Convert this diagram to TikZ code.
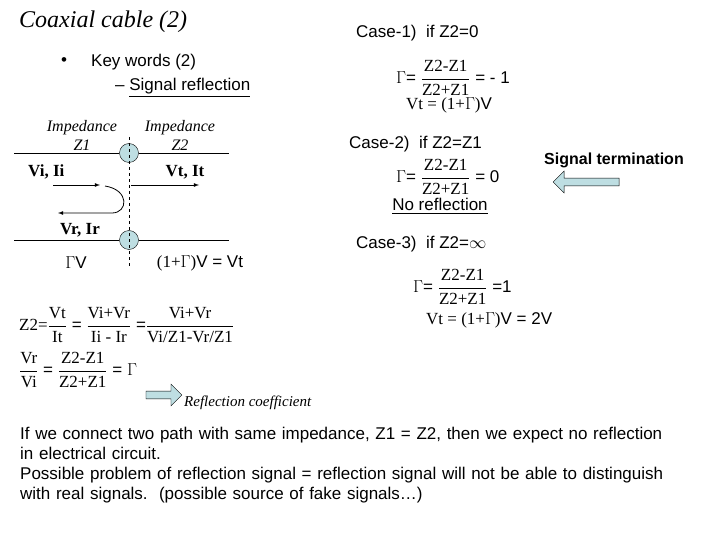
\documentclass[tikz,border=0pt]{standalone}
\usepackage{amsmath}
\usepackage{fontspec}
\setmainfont{Liberation Serif}
\setsansfont{Liberation Sans}
\usepackage{tikz}
\usetikzlibrary{shapes, arrows, positioning, calc}
\definecolor{pale}{RGB}{190,222,226}
\newcommand{\fr}[2]{$\dfrac{\text{\rmfamily #1}}{\text{\rmfamily #2}}$}

\begin{document}
\begin{tikzpicture}[x=1pt, y=-1pt,
        every node/.style={inner sep=1pt, font=\sffamily\fontsize{17}{20}\selectfont},
        ital/.style={font=\rmfamily\itshape\fontsize{16}{19}\selectfont, align=center},
        bold/.style={font=\rmfamily\bfseries\fontsize{17}{20}\selectfont},
        joint/.style={circle, draw, fill=pale, minimum size=19pt, inner sep=0pt},
        fat/.style={single arrow, draw, fill=pale, minimum height=36pt, minimum width=22pt, single arrow head extend=4pt, inner sep=2pt}
    ]
        \useasboundingbox (0,0) rectangle (720,540);

        % Title and key words
        \node[anchor=west, font=\rmfamily\itshape\fontsize{24}{28}\selectfont] (title) at (18,22) {Coaxial cable (2)};
        \node[anchor=west] (bullet) at (60,62) {•};
        \node[anchor=west] (keys) at (90,62) {Key words (2)};
        \node[anchor=west] (refl) at (114,88) {– \underline{Signal reflection}};

        % Cable
        \node[ital] (imp1) at (82,135) {Impedance\\Z1};
        \node[ital] (imp2) at (180,135) {Impedance\\Z2};
        \node[joint] (jtop) at (129,153) {};
        \node[joint] (jbot) at (129,240) {};
        \coordinate (tl) at (14,153); \coordinate (tr) at (229,153);
        \coordinate (bl) at (14,240); \coordinate (br) at (229,240);
        \draw (tl) -- (jtop) -- (tr);
        \draw (bl) -- (jbot) -- (br);
        \coordinate (dtop) at (129,137); \coordinate (dbot) at (129,266);
        \draw[dashed] (dtop) -- (dbot);

        \node[bold, anchor=west] (vi) at (27,172) {Vi, Ii};
        \node[bold] (vt) at (185,172) {Vt, It};
        \node[bold] (vr) at (80,230) {Vr, Ir};
        \coordinate (a1) at (53,185); \coordinate (a2) at (100,185);
        \coordinate (b1) at (131,185); \coordinate (b2) at (199,185);
        \coordinate (c1) at (105,186); \coordinate (c2) at (58,213);
        \draw[-latex, thick] (a1) -- (a2);
        \draw[-latex, thick] (b1) -- (b2);
        \draw[-latex, thick] (c1) .. controls (130,190) and (128,213) .. (112,213) -- (c2);

        \node (gv) at (76,263) {{\rmfamily$\Gamma$}V};
        \node (tv) at (200,263) {{\rmfamily(1+$\Gamma$)}V = Vt};

        % Formulas
        \node[anchor=west] (zeq) at (18,325) {{\rmfamily Z2=}\fr{Vt}{It} = \fr{Vi+Vr}{Ii - Ir} =\fr{Vi+Vr}{Vi/Z1-Vr/Z1}};
        \node[anchor=west] (gam) at (18,370) {\fr{Vr}{Vi} = \fr{Z2-Z1}{Z2+Z1} = {\rmfamily$\Gamma$}};
        \node[fat] (toref) at (162,395) {};
        \node[ital, anchor=west, font=\rmfamily\itshape\fontsize{15}{17}\selectfont] (refc) at (183,403) {Reflection coefficient};

        % Case 1
        \node[anchor=west] (case1) at (355,33) {Case-1)\ \ if Z2=0};
        \node[anchor=west] (f1) at (395,78) {{\rmfamily$\Gamma$}= \fr{Z2-Z1}{Z2+Z1} = - 1};
        \node[anchor=west] (v1) at (405,105) {{\rmfamily Vt = (1+$\Gamma$)}V};

        % Case 2
        \node[anchor=west] (case2) at (348,144) {Case-2)\ \ if Z2=Z1};
        \node[anchor=west] (f2) at (395,177) {{\rmfamily$\Gamma$}= \fr{Z2-Z1}{Z2+Z1} = 0};
        \node (noref) at (440,206) {\underline{No reflection}};
        \node (term) at (614,160) {\bfseries\fontsize{16}{19}\selectfont Signal termination};
        \node[fat, shape border rotate=180, minimum height=66pt] (toterm) at (588,182) {};

        % Case 3
        \node[anchor=west] (case3) at (355,244) {Case-3)\ \ if Z2=$\infty$};
        \node[anchor=west] (f3) at (412,287) {{\rmfamily$\Gamma$}= \fr{Z2-Z1}{Z2+Z1} =1};
        \node[anchor=west] (v3) at (425,320) {{\rmfamily Vt = (1+$\Gamma$)}V = 2V};

        % Comment
        \node[anchor=north west, align=left, text width=700pt] (note) at (19,426)
            {If we connect two path with same impedance, Z1 = Z2, then we expect no reflection\\
             in electrical circuit.\\
             Possible problem of reflection signal = reflection signal will not be able to distinguish\\
             with real signals.\ \ (possible source of fake signals…)};
    \end{tikzpicture}
\end{document}
